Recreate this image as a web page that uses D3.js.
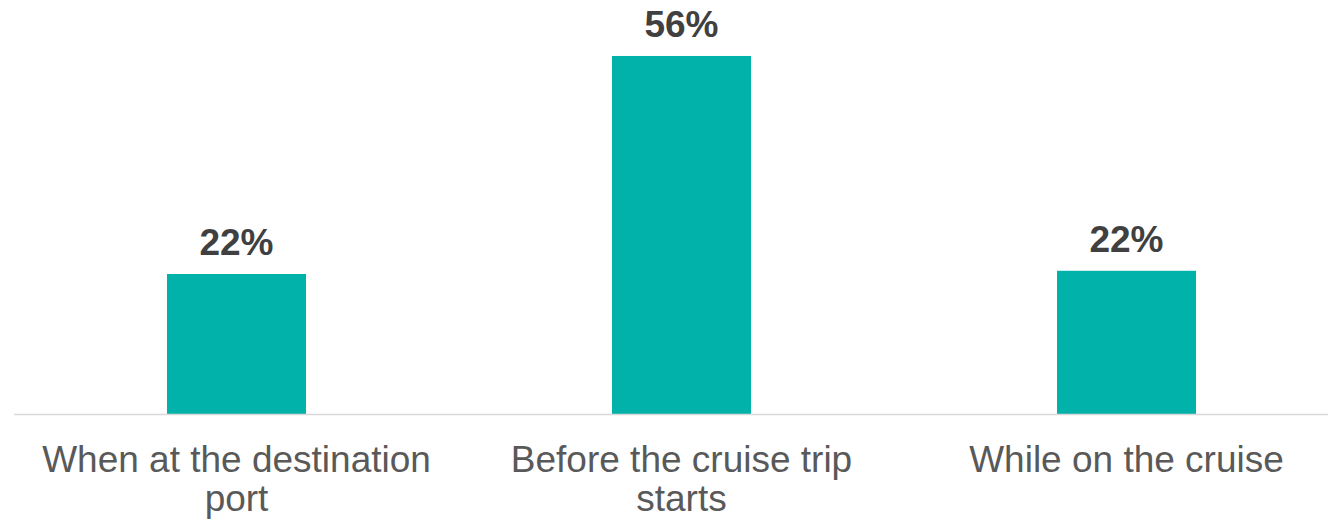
<!DOCTYPE html>
<html>
<head>
<meta charset="utf-8">
<script src="https://cdn.jsdelivr.net/npm/d3@7"></script>
<style>
  html, body { margin: 0; padding: 0; background: #fff; }
  svg { display: block; }
</style>
</head>
<body>
<svg id="chart" width="1328" height="522"></svg>
<script>
const categories = ["When at the destination port", "Before the cruise trip starts", "While on the cruise"];
const values = [21.9, 56, 22.4];
const valueLabels = ["22%", "56%", "22%"];

const W = 1328, H = 522;
const svg = d3.select("#chart");
const baseY = 414;

const x = d3.scaleBand()
  .domain(categories)
  .range([14, 1349])
  .paddingInner(0.6876)
  .paddingOuter(0.3438);

const y = d3.scaleLinear().domain([0, 60]).range([baseY, baseY - 383.6]);

// bars
svg.append("g").selectAll("rect")
  .data(categories)
  .join("rect")
  .attr("x", d => x(d))
  .attr("width", x.bandwidth())
  .attr("y", (d, i) => y(values[i]))
  .attr("height", (d, i) => baseY - y(values[i]))
  .attr("fill", "#00B2A9");

// axis
const axis = svg.append("g")
  .attr("transform", `translate(0,${baseY + 0.5})`)
  .call(d3.axisBottom(x).tickSize(0).tickSizeOuter(0).tickPadding(0));
axis.select(".domain")
  .attr("d", `M${x.range()[0]},0H${W}`)
  .attr("stroke", "#D9D9D9").attr("stroke-width", 1.3);

axis.selectAll(".tick text")
  .attr("fill", "#595959")
  .attr("font-family", "'Liberation Sans', Arial, sans-serif")
  .attr("font-size", 37)
  .attr("dy", null)
  .attr("y", 0)
  .each(function(d) {
    const t = d3.select(this);
    const words = d.split(" ");
    t.text(null);
    let lines = [];
    let line = [];
    let tspan = t.append("tspan");
    for (const w of words) {
      line.push(w);
      tspan.text(line.join(" "));
      if (tspan.node().getComputedTextLength() > 410 && line.length > 1) {
        line.pop();
        lines.push(line.join(" "));
        line = [w];
        tspan.text(w);
      }
    }
    lines.push(line.join(" "));
    t.text(null);
    lines.forEach((l, i) => {
      t.append("tspan")
        .attr("x", 0)
        .attr("y", 57.5 + i * 39)
        .text(l);
    });
  });

// value labels
svg.append("g").selectAll("text")
  .data(categories)
  .join("text")
  .attr("x", d => x(d) + x.bandwidth() / 2)
  .attr("y", (d, i) => y(values[i]) - 19)
  .attr("text-anchor", "middle")
  .attr("font-family", "'Liberation Sans', Arial, sans-serif")
  .attr("font-weight", "bold")
  .attr("font-size", 37)
  .attr("fill", "#404040")
  .text((d, i) => valueLabels[i]);
</script>
</body>
</html>
